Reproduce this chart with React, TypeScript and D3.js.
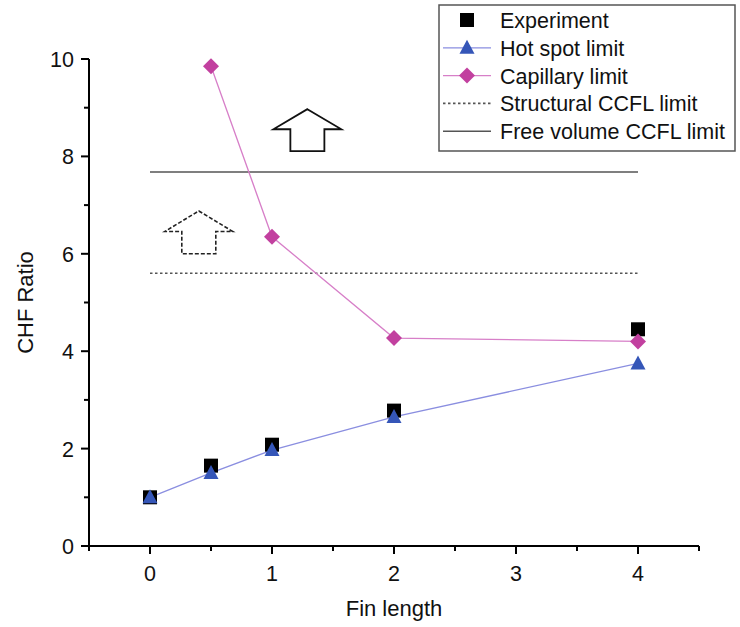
import React from "react";
import * as d3 from "d3";

const finLengthExp = [0, 0.5, 1, 2, 4];
const experiment = [1.0, 1.65, 2.08, 2.78, 4.45];
const hotSpot = [1.0, 1.5, 1.97, 2.65, 3.75];
const finLengthCap = [0.5, 1, 2, 4];
const capillary = [9.85, 6.35, 4.27, 4.2];
const structuralCCFL = 5.6;
const freeVolumeCCFL = 7.68;
const limitRange = [0, 4];
const xTicks = [0, 1, 2, 3, 4];
const yTicks = [0, 2, 4, 6, 8, 10];
const legendLabels = ["Experiment", "Hot spot limit", "Capillary limit", "Structural CCFL limit", "Free volume CCFL limit"];
// arrows: [xCenter, tipY, bottomY]
const solidArrow = [1.29, 8.97, 8.11];
const dashedArrow = [0.4, 6.88, 6.0];

const W = 740, H = 627;
const FONT = "'Liberation Sans', Arial, sans-serif";

export default function App() {
  const x = d3.scaleLinear().domain([-0.5, 4.5]).range([89, 699]);
  const y = d3.scaleLinear().domain([0, 10]).range([546, 59]);
  const line = d3.line<[number, number]>().x(d => x(d[0])).y(d => y(d[1]));
  const minorX = d3.range(-0.5, 4.51, 0.5).filter(v => Math.abs(v - Math.round(v)) > 0.1);
  const minorY = d3.range(1, 10, 2);
  const blueLine = "#8a8ee0";
  const blueFill = "#3556b8";
  const magLine = "#d77fc8";
  const magFill = "#c2409f";
  const grayLine = "#555";

  const sq = (cx: number, cy: number, k: string) => (
    <rect key={k} x={cx - 7} y={cy - 7} width={14} height={14} fill="#000" />
  );
  const tri = (cx: number, cy: number, k: string) => (
    <path key={k} d={`M${cx},${cy - 8}L${cx + 7.5},${cy + 6}L${cx - 7.5},${cy + 6}Z`} fill={blueFill} />
  );
  const dia = (cx: number, cy: number, k: string) => (
    <path key={k} d={`M${cx},${cy - 8}L${cx + 8},${cy}L${cx},${cy + 8}L${cx - 8},${cy}Z`} fill={magFill} />
  );

  const arrow = (a: number[], dashed: boolean, k: string) => {
    const cx = x(a[0]);
    const tip = y(a[1]);
    const bot = y(a[2]);
    const h = bot - tip;
    const wing = 34;
    const shaft = 17;
    const wy = tip + h * 0.48;
    const d = `M${cx},${tip}L${cx + wing},${wy}L${cx + shaft},${wy}L${cx + shaft},${bot}L${cx - shaft},${bot}L${cx - shaft},${wy}L${cx - wing},${wy}Z`;
    return (
      <path key={k} d={d} fill="none" stroke={dashed ? "#222" : "#111"} strokeWidth={dashed ? 1.6 : 1.8}
        strokeDasharray={dashed ? "4,2" : undefined} strokeLinejoin="miter" />
    );
  };

  const legX = 439, legY = 5, legW = 296, legH = 146;
  const rowY = (i: number) => 20 + i * 27.8;

  return (
    <div style={{ position: "fixed", left: 0, top: 0, width: W, height: H, background: "#fff" }}>
      <svg width={W} height={H} style={{ display: "block" }} fontFamily={FONT}>
        <rect width={W} height={H} fill="#fff" />
        {/* limit lines */}
        <line x1={x(limitRange[0])} x2={x(limitRange[1])} y1={y(freeVolumeCCFL)} y2={y(freeVolumeCCFL)} stroke={grayLine} strokeWidth={1.6} />
        <line x1={x(limitRange[0])} x2={x(limitRange[1])} y1={y(structuralCCFL)} y2={y(structuralCCFL)} stroke={grayLine} strokeWidth={1.6} strokeDasharray="2.5,2.5" />
        {arrow(solidArrow, false, "a1")}
        {arrow(dashedArrow, true, "a2")}
        {/* series lines */}
        <path d={line(finLengthExp.map((v, i) => [v, hotSpot[i]]) as any) || ""} fill="none" stroke={blueLine} strokeWidth={1.3} />
        <path d={line(finLengthCap.map((v, i) => [v, capillary[i]]) as any) || ""} fill="none" stroke={magLine} strokeWidth={1.3} />
        {finLengthExp.map((v, i) => sq(x(v), y(experiment[i]), "s" + i))}
        {finLengthExp.map((v, i) => tri(x(v), y(hotSpot[i]), "t" + i))}
        {finLengthCap.map((v, i) => dia(x(v), y(capillary[i]), "d" + i))}
        {/* axes */}
        <line x1={x(-0.5)} x2={x(4.5)} y1={y(0)} y2={y(0)} stroke="#000" strokeWidth={2} />
        <line x1={x(-0.5)} x2={x(-0.5)} y1={y(0) + 1} y2={y(10)} stroke="#000" strokeWidth={2} />
        {xTicks.map(t => (
          <g key={"xt" + t}>
            <line x1={x(t)} x2={x(t)} y1={y(0)} y2={y(0) + 8} stroke="#000" strokeWidth={2} />
            <text x={x(t)} y={y(0) + 35} textAnchor="middle" fontSize={21.5} fill="#111">{t}</text>
          </g>
        ))}
        {minorX.map(t => (
          <line key={"xm" + t} x1={x(t)} x2={x(t)} y1={y(0)} y2={y(0) + 5} stroke="#000" strokeWidth={2} />
        ))}
        {yTicks.map(t => (
          <g key={"yt" + t}>
            <line x1={x(-0.5) - 8} x2={x(-0.5)} y1={y(t)} y2={y(t)} stroke="#000" strokeWidth={2} />
            <text x={x(-0.5) - 15} y={y(t) + 8} textAnchor="end" fontSize={21.5} fill="#111">{t}</text>
          </g>
        ))}
        {minorY.map(t => (
          <line key={"ym" + t} x1={x(-0.5) - 5} x2={x(-0.5)} y1={y(t)} y2={y(t)} stroke="#000" strokeWidth={2} />
        ))}
        <text x={x(2)} y={616} textAnchor="middle" fontSize={22} fill="#111">Fin length</text>
        <text transform={`translate(33,${y(5)}) rotate(-90)`} textAnchor="middle" fontSize={22} fill="#111">CHF Ratio</text>
        {/* legend */}
        <rect x={legX} y={legY} width={legW} height={legH} fill="#fff" stroke="#555" strokeWidth={1.5} />
        {legendLabels.map((lab, i) => (
          <text key={"lg" + i} x={500} y={rowY(i) + 8} fontSize={21.5} fill="#111">{lab}</text>
        ))}
        {sq(467, rowY(0), "ls")}
        <line x1={443} x2={491} y1={rowY(1)} y2={rowY(1)} stroke={blueLine} strokeWidth={1.3} />
        {tri(467, rowY(1), "lt")}
        <line x1={443} x2={491} y1={rowY(2)} y2={rowY(2)} stroke={magLine} strokeWidth={1.3} />
        {dia(467, rowY(2), "ld")}
        <line x1={443} x2={491} y1={rowY(3)} y2={rowY(3)} stroke={grayLine} strokeWidth={1.6} strokeDasharray="2.5,2.5" />
        <line x1={443} x2={491} y1={rowY(4)} y2={rowY(4)} stroke={grayLine} strokeWidth={1.6} />
      </svg>
    </div>
  );
}
